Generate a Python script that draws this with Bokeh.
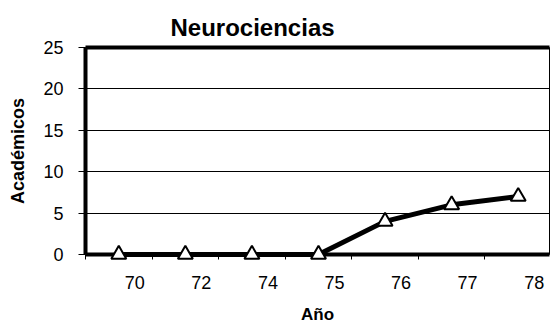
from bokeh.plotting import figure
from bokeh.models import Range1d, FixedTicker, LinearAxis, ColumnDataSource
from bokeh.embed import file_html
from bokeh.resources import INLINE

# ---- data ----
years = ["70", "72", "74", "75", "76", "77", "78"]
academicos = [0, 0, 0, 0, 4, 6, 7]
y_ticks = [0, 5, 10, 15, 20, 25]

FONT = "Liberation Sans"

# category centres (index based) and label positions
xs = [i + 0.5 for i in range(len(years))]
label_shift = 0.24
label_pos = [x + label_shift for x in xs]
boundaries = list(range(len(years)))

src = ColumnDataSource(dict(x=xs, y=academicos, year=years))

p = figure(width=550, height=326, output_backend="svg", toolbar_location=None,
           x_range=Range1d(0, 6.97), y_range=Range1d(0, 25),
           min_border_left=85, min_border_right=1, min_border_top=47, min_border_bottom=72)
p.background_fill_color = "white"
p.border_fill_color = "white"
p.outline_line_color = "black"
p.outline_line_width = 1

# title
p.title.text = "Neurociencias"
p.title.text_font = FONT
p.title.text_font_size = "24px"
p.title.text_font_style = "bold"
p.title.text_color = "black"
p.title.align = "left"
p.title.offset = 85
p.title.standoff = 13

# grid
p.xgrid.grid_line_color = None
p.ygrid.grid_line_color = "black"
p.ygrid.grid_line_width = 1
p.ygrid.ticker = FixedTicker(ticks=y_ticks)

# y axis
ya = p.yaxis[0]
ya.ticker = FixedTicker(ticks=y_ticks)
ya.axis_line_width = 4
ya.axis_line_color = "black"
ya.major_tick_out = 7
ya.major_tick_in = 0
ya.major_tick_line_color = "black"
ya.minor_tick_line_color = None
ya.major_label_text_font = FONT
ya.major_label_text_font_size = "18px"
ya.major_label_text_color = "black"
ya.major_label_standoff = 15
ya.axis_label = "Académicos"
ya.axis_label_text_font = FONT
ya.axis_label_text_font_size = "18px"
ya.axis_label_text_font_style = "bold"
ya.axis_label_text_color = "black"
ya.axis_label_standoff = 12

# x axis
xa = p.xaxis[0]
xa.ticker = FixedTicker(ticks=label_pos, minor_ticks=boundaries)
xa.major_label_overrides = {lp: yr for lp, yr in zip(label_pos, years)}
xa.axis_line_width = 4
xa.axis_line_color = "black"
xa.major_tick_line_color = None
xa.minor_tick_line_color = "black"
xa.minor_tick_out = 5
xa.minor_tick_in = 0
xa.major_label_text_font = FONT
xa.major_label_text_font_size = "18px"
xa.major_label_text_color = "black"
xa.major_label_standoff = 15
xa.axis_label = "Año"
xa.axis_label_text_font = FONT
xa.axis_label_text_font_size = "17px"
xa.axis_label_text_font_style = "bold"
xa.axis_label_text_color = "black"
xa.axis_label_standoff = 13

# thick top border
top = LinearAxis(ticker=FixedTicker(ticks=[]), axis_line_width=4, axis_line_color="black",
                 major_tick_line_color=None, minor_tick_line_color=None,
                 major_label_text_font_size="0px", major_label_standoff=0)
p.add_layout(top, "above")

# data
p.line("x", "y", source=src, line_color="black", line_width=5, level="overlay")
p.scatter("x", "y", source=src, marker="triangle", size=15,
          fill_color="white", line_color="black", line_width=2, level="overlay")

open("out.html", "w").write(file_html(p, INLINE))
